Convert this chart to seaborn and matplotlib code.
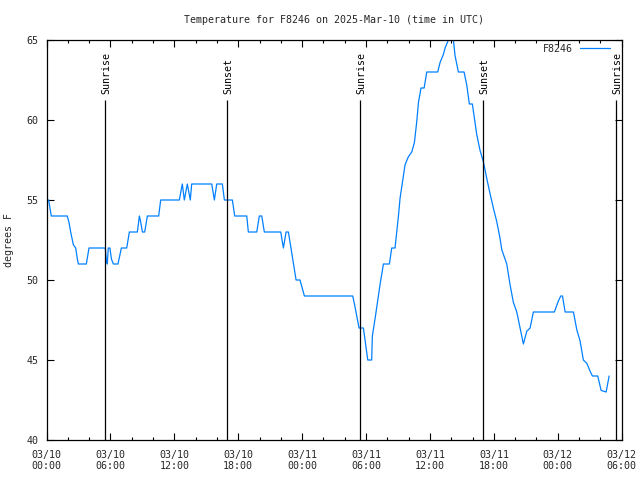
import matplotlib
matplotlib.use("Agg")
import matplotlib.pyplot as plt
import seaborn as sns
import pandas as pd

# hours since 03/10 00:00 UTC
hours = [0.00, 0.20, 0.45, 1.95, 2.11, 2.27, 2.43, 2.52, 2.74, 2.90, 2.99,
         3.74, 3.99, 5.52, 5.62, 5.71, 5.80, 5.95, 6.10, 6.28, 6.71, 7.03,
         7.53, 7.78, 8.53, 8.72, 8.85, 9.00, 9.22, 9.47, 10.53, 10.72, 12.47,
         12.75, 12.94, 13.22, 13.50, 13.63, 15.51, 15.76, 15.98, 16.51, 16.70,
         17.45, 17.67, 18.80, 18.95, 19.74, 19.98, 20.21, 20.45, 21.99, 22.24,
         22.49, 22.71, 23.43, 23.80, 24.21, 28.75, 28.97, 29.34, 29.75, 30.16,
         30.53, 30.59, 30.85, 31.31, 31.63, 32.19, 32.41, 32.72, 33.04, 33.19,
         33.35, 33.66, 33.97, 34.29, 34.54, 34.76, 34.92, 35.16, 35.45, 35.70,
         36.73, 36.95, 37.26, 37.42, 37.73, 37.89, 38.20, 38.36, 38.51, 38.67,
         39.20, 39.45, 39.70, 39.98, 40.39, 40.70, 41.01, 41.33, 41.64, 41.95,
         42.27, 42.58, 42.74, 43.21, 43.52, 43.83, 44.15, 44.46, 44.77, 45.09,
         45.40, 45.71, 47.68, 48.06, 48.28, 48.44, 48.69, 49.47, 49.78, 50.09,
         50.40, 50.72, 51.03, 51.25, 51.75, 52.07, 52.54, 52.82]
temps = [55, 55, 54, 54, 53.6, 53, 52.5, 52.2, 52, 51.3, 51,
         51, 52, 52, 51.2, 51, 52, 52, 51.3, 51, 51, 52,
         52, 53, 53, 54, 53.6, 53, 53, 54, 54, 55, 55,
         56, 55, 56, 55, 56, 56, 55, 56, 56, 55,
         55, 54, 54, 53, 53, 54, 54, 53, 53, 52,
         53, 53, 50, 50, 49, 49, 48.3, 47, 47, 45,
         45, 46.5, 47.6, 49.7, 51, 51, 52, 52, 54, 55.1,
         55.8, 57.2, 57.7, 58, 58.6, 59.9, 61.1, 62, 62, 63,
         63, 63.6, 64.1, 64.5, 65, 65.5, 65, 64, 63.5, 63,
         63, 62.2, 61, 61, 59.1, 58.1, 57.4, 56.35, 55.4, 54.5,
         53.65, 52.6, 51.9, 51, 49.7, 48.6, 48, 47, 46, 46.8,
         47, 48, 48, 48.7, 49, 49, 48, 48, 46.9, 46.2,
         45, 44.8, 44.3, 44, 44, 43.1, 43, 44]

event_hours = [5.52, 16.98, 29.47, 41.00, 53.47]
event_labels = ["Sunrise", "Sunset", "Sunrise", "Sunset", "Sunrise"]

xtick_hours = [0, 6, 12, 18, 24, 30, 36, 42, 48, 54]
xtick_labels = ["03/10\n00:00", "03/10\n06:00", "03/10\n12:00", "03/10\n18:00",
                "03/11\n00:00", "03/11\n06:00", "03/11\n12:00", "03/11\n18:00",
                "03/12\n00:00", "03/12\n06:00"]
ytick_values = [40, 45, 50, 55, 60, 65]

station = "F8246"
title = "Temperature for F8246 on 2025-Mar-10 (time in UTC)"

sns.set_style("white")
plt.rcParams['font.family'] = ['DejaVu Sans Mono']
FS = 7.2

df = pd.DataFrame({"hours": hours, "temp": temps})

fig = plt.figure(figsize=(6.4, 4.8), dpi=100)
ax = fig.add_axes([46.5 / 640, 40 / 480, (621.7 - 46.5) / 640, 400 / 480])

sns.lineplot(data=df, x="hours", y="temp", ax=ax, color="#0080ff",
             linewidth=0.9, label=station, sort=False)

ax.set_xlim(0, 54)
ax.set_ylim(40, 65)

ax.vlines(event_hours, 40, 61.25, color="black", linewidth=0.9, zorder=3)
for eh, el in zip(event_hours, event_labels):
    ax.text(eh + 0.1, 61.6, el, rotation=90, ha="center", va="bottom",
            fontsize=FS, color="black")

ax.set_xticks(xtick_hours)
ax.set_xticklabels(xtick_labels, fontsize=FS)
ax.set_xticks([h for h in range(0, 55, 2) if h % 6 != 0], minor=True)
ax.set_yticks(ytick_values)
ax.set_yticklabels([str(v) for v in ytick_values], fontsize=FS)

ax.tick_params(axis="x", which="major", pad=7)
ax.tick_params(axis="both", which="major", direction="in", length=5, width=0.8,
               top=True, right=True, bottom=True, left=True, color="black")
ax.tick_params(axis="y", which="major", pad=6)
ax.tick_params(axis="x", which="minor", direction="in", length=2.5, width=0.8,
               top=True, bottom=True, color="black")

for s in ax.spines.values():
    s.set_color("black")
    s.set_linewidth(0.9)

ax.set_xlabel("")
ax.set_ylabel("degrees F", fontsize=FS, labelpad=9)
ax.set_title(title, fontsize=FS, pad=12)

leg = ax.legend(loc="upper right", bbox_to_anchor=(0.983, 0.995),
                frameon=False, markerfirst=False, fontsize=FS,
                handlelength=3.0, borderaxespad=0.0, borderpad=0.2,
                handletextpad=0.7)

fig.savefig("out.png", dpi=100)
